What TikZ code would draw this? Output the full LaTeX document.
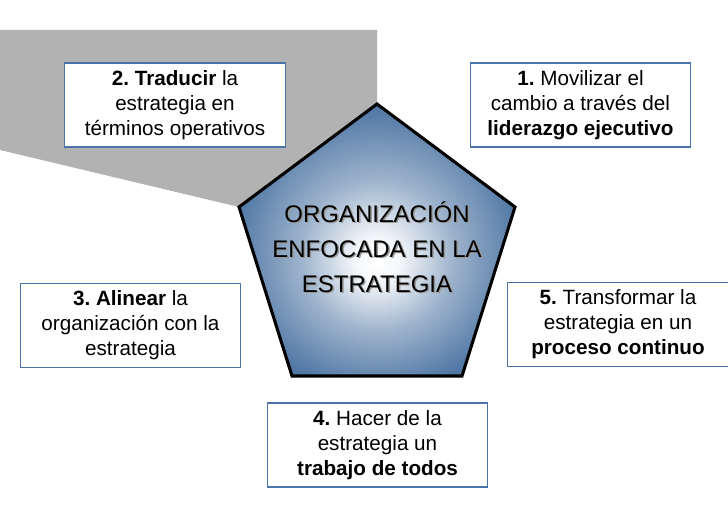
\documentclass[tikz,border=0pt]{standalone}
\usepackage{fontspec}
\setmainfont{Liberation Sans}
\frenchspacing
\definecolor{pblue}{HTML}{3A6699}
\definecolor{bordblue}{HTML}{4A74A8}
\definecolor{gfill}{HTML}{B2B2B2}
\pgfdeclareradialshading{pentshade}{\pgfpoint{0bp}{-4bp}}{color(0bp)=(white); color(4bp)=(white!95!pblue); color(14bp)=(pblue!50!white); color(26bp)=(pblue!88!white); color(34bp)=(pblue); color(50bp)=(pblue)}
\tikzset{
  box/.style={draw=bordblue, line width=0.8pt, fill=white, align=center,
    minimum width=165.5pt, minimum height=63pt, inner sep=0pt,
    font=\fontsize{15.5}{18.75}\selectfont},
  centertext/.style={align=center, font=\fontsize{18}{26.25}\selectfont, inner sep=0pt}
}
\begin{document}
\begin{tikzpicture}[x=0.75pt,y=-0.75pt]
\useasboundingbox (0,0) rectangle (728,516);
% gray backdrop
\fill[gfill] (0,30) -- (377,30) -- (377,104) -- (239,207) -- (0,150) -- cycle;
% pentagon
\coordinate (pt) at (377,104);
\coordinate (pr) at (515,207);
\coordinate (pbr) at (462,376);
\coordinate (pbl) at (292,376);
\coordinate (pl) at (239,207);
\shade[shading=pentshade] (pt) -- (pr) -- (pbr) -- (pbl) -- (pl) -- cycle;
\draw[line width=2.3pt, line join=miter] (pt) -- (pr) -- (pbr) -- (pbl) -- (pl) -- cycle;
\node[centertext, text=black!40] (centershadow) at (378.5,248.5) {ORGANIZACIÓN\\ENFOCADA EN LA\\ESTRATEGIA};
\node[centertext, text=black] (center) at (377,247) {ORGANIZACIÓN\\ENFOCADA EN LA\\ESTRATEGIA};
% boxes
\node[box] (b1) at (580.5,105) {\textbf{1.} Movilizar el\\cambio a través del\\\textbf{liderazgo ejecutivo}};
\node[box] (b2) at (175,105) {\textbf{2. Traducir} la\\estrategia en\\términos operativos};
\node[box] (b3) at (130.5,325.5) {\textbf{3. Alinear} la\\organización con la\\estrategia};
\node[box] (b4) at (377.5,445) {\textbf{4.} Hacer de la\\estrategia un\\\textbf{trabajo de todos}};
\node[box] (b5) at (618,324.5) {\textbf{5.} Transformar la\\estrategia en un\\\textbf{proceso continuo}};
\end{tikzpicture}
\end{document}
